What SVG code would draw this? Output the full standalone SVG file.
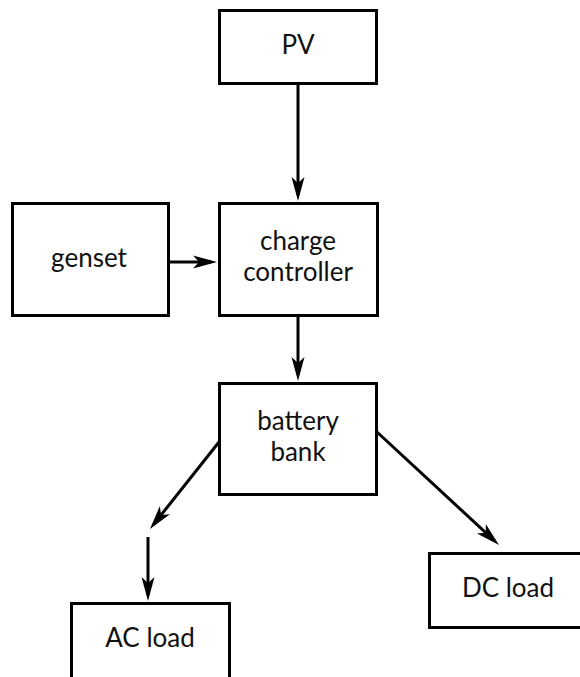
<svg xmlns="http://www.w3.org/2000/svg" width="580" height="677" viewBox="0 0 580 677">
<style>
.box{fill:#fff;stroke:#000;stroke-width:3}
.lbl{font-family:Lato,"Open Sans","DejaVu Sans",sans-serif;font-size:26px;fill:#111;text-anchor:middle}
.conn{stroke:#000;stroke-width:3;fill:none;marker-end:url(#ah)}
</style>
<defs>
<marker id="ah" viewBox="-26 -8 27 16" refX="-6" refY="0" markerWidth="27" markerHeight="16" markerUnits="userSpaceOnUse" orient="auto">
<path d="M0,0 L-24,-6.5 L-18,0 L-24,6.5 Z" fill="#000"/>
</marker>
</defs>
<rect width="580" height="677" fill="#fff"/>
<g id="connectors">
<line class="conn" x1="298" y1="84" x2="298" y2="195"/>
<line class="conn" x1="169" y1="262" x2="211" y2="262"/>
<line class="conn" x1="298" y1="316" x2="298" y2="375"/>
<line class="conn" x1="219" y1="442" x2="153.7" y2="524.3"/>
<line class="conn" x1="148" y1="537" x2="148" y2="595"/>
<line class="conn" x1="377" y1="432" x2="494.6" y2="540.9"/>
</g>
<g id="pv">
<rect class="box" x="219.5" y="10.5" width="157" height="73"/>
<text class="lbl" x="298" y="54">PV</text>
</g>
<g id="genset">
<rect class="box" x="12.5" y="203.5" width="156" height="112"/>
<text class="lbl" x="89" y="267">genset</text>
</g>
<g id="charge-controller">
<rect class="box" x="219.5" y="203.5" width="158" height="112"/>
<text class="lbl" x="298" y="250">charge</text>
<text class="lbl" x="298" y="281">controller</text>
</g>
<g id="battery-bank">
<rect class="box" x="219.5" y="383.5" width="157" height="111"/>
<text class="lbl" x="298" y="430">battery</text>
<text class="lbl" x="298" y="461">bank</text>
</g>
<g id="ac-load">
<rect class="box" x="71.5" y="603.5" width="158" height="90"/>
<text class="lbl" x="150" y="647">AC load</text>
</g>
<g id="dc-load">
<rect class="box" x="429.5" y="553.5" width="158" height="74"/>
<text class="lbl" x="508" y="597">DC load</text>
</g>
</svg>
